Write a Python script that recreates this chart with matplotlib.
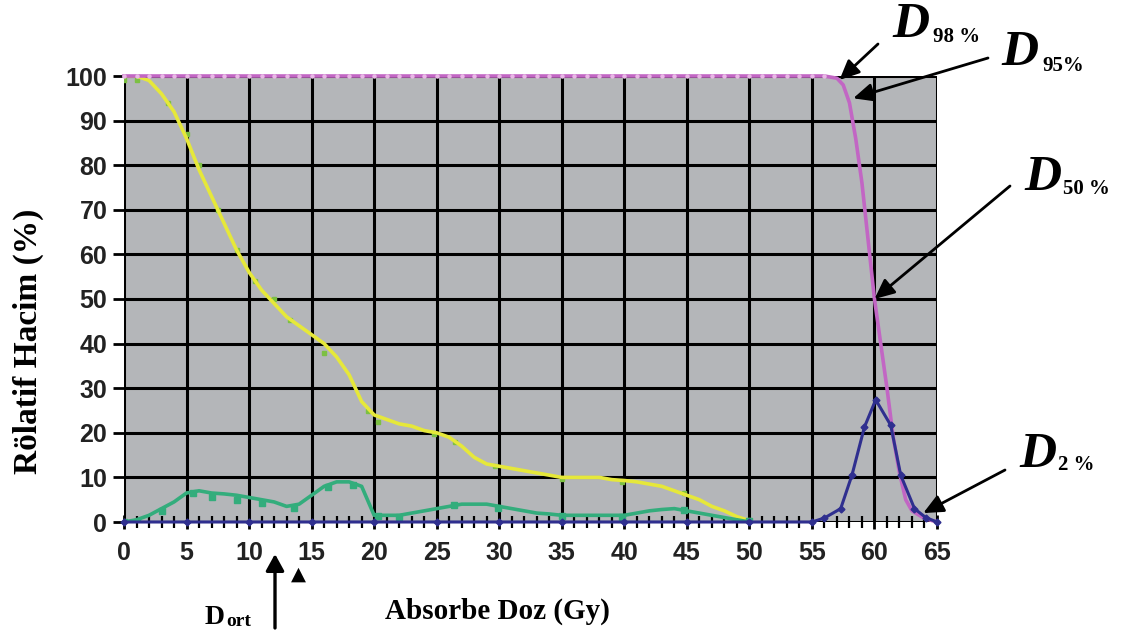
import numpy as np
import matplotlib
matplotlib.use("Agg")
import matplotlib.pyplot as plt
from matplotlib.ticker import MultipleLocator

# -----------------------------
# Data
# -----------------------------
dose = list(range(0, 51))
yellow_vol = [100, 100, 99, 96, 92, 86, 79, 73, 67, 61,
              56, 52, 49, 46, 44, 42, 40, 37, 33, 27,
              24, 23, 22, 21.5, 20.5, 20, 19, 17, 14.5, 13,
              12.5, 12, 11.5, 11, 10.5, 10, 10, 10, 10, 9.5,
              9.3, 9, 8.5, 8, 7, 6, 5, 3.5, 2.5, 1.2, 0.3]
yellow_mark_x = [0, 1, 3.5, 5, 6, 7.5, 9, 10.5, 12, 13.3, 16, 19.5, 20.3, 24.8, 26.5, 29.7, 35, 39.8, 44.8, 50]
yellow_mark_y = [99, 99, 94, 87, 80, 70, 61, 54, 50, 45.3, 38, 25, 22.4, 19.8, 18, 12.5, 9.6, 9, 6.5, 0.4]

green_vol = [0, 0.5, 1.5, 3, 4.5, 6.5, 7, 6.5, 6.3, 6,
             5.5, 5, 4.5, 3.5, 4, 6, 8, 9, 9, 8,
             1.5, 1.5, 1.5, 2, 2.5, 3, 3.5, 4, 4, 4,
             3.5, 3, 2.5, 2, 1.8, 1.5, 1.5, 1.5, 1.5, 1.5,
             1.5, 2, 2.5, 2.8, 3, 2.5, 2, 1.5, 1, 0.5, 0]
green_mark_x = [0, 1, 3, 5.5, 7, 9, 11, 13.6, 16.3, 18.3, 20.3, 22, 26.4, 29.9, 35, 39.8, 44.8, 50]
green_mark_y = [0, 0, 2.5, 6.5, 5.5, 5, 4.3, 3.2, 7.8, 8.2, 1.3, 1.2, 3.8, 3.2, 1.4, 1.1, 2.6, 0.2]

pink_x = [0, 5, 10, 15, 20, 25, 30, 35, 40, 45, 50, 55, 56, 57, 57.5, 58, 58.5, 59, 59.5, 60,
          60.5, 61, 61.5, 62, 62.5, 63, 64, 65]
pink_y = [100, 100, 100, 100, 100, 100, 100, 100, 100, 100, 100, 100, 100, 99.5, 98, 94, 86, 76, 63, 50,
          40, 30, 19, 11, 5, 2.5, 0.8, 0]
pink_mark_x = list(range(0, 57))

blue_x = [0, 5, 10, 15, 20, 25, 30, 35, 40, 45, 50, 55, 56, 57.3, 58.2, 59.2, 60.1, 61.3, 62.1, 63.2, 64.1, 65]
blue_y = [0, 0, 0, 0, 0, 0, 0, 0, 0, 0, 0, 0, 0.9, 3, 10.5, 21.3, 27.4, 21.7, 10.5, 3, 1, 0]

# colours
BG = "#b4b6b9"
YELLOW = "#e6e83a"
YGREEN = "#7cc043"
GREEN = "#33ad7c"
PINK = "#c266c4"
NAVY = "#2f2f8f"

W, H = 1121, 637
fig = plt.figure(figsize=(W / 100, H / 100), dpi=100)
ax = fig.add_axes([124 / W, 1 - 522 / H, (937 - 124) / W, (522 - 76) / H])
ax.set_facecolor(BG)
ax.set_xlim(0, 65)
ax.set_ylim(0, 100)

ax.xaxis.set_major_locator(MultipleLocator(5))
ax.xaxis.set_minor_locator(MultipleLocator(1))
ax.yaxis.set_major_locator(MultipleLocator(10))
ax.grid(True, which="major", color="black", linewidth=2.2)
ax.set_axisbelow(True)
for s in ax.spines.values():
    s.set_visible(False)

ax.tick_params(axis="y", which="major", direction="out", length=8, width=2, color="black",
               labelsize=18, pad=4, labelcolor="#222222")
ax.tick_params(axis="x", which="major", direction="inout", length=10, width=2, color="black",
               labelsize=18, pad=9, labelcolor="#222222")
ax.tick_params(axis="x", which="minor", direction="inout", length=8, width=1.6, color="black")
for lab in ax.get_xticklabels() + ax.get_yticklabels():
    lab.set_fontfamily("Liberation Sans")
    lab.set_fontweight("bold")

# curves
ax.plot(dose, yellow_vol, color=YELLOW, lw=2.6, zorder=4)
ax.plot(yellow_mark_x, yellow_mark_y, ls="none", marker="s", ms=3.5, color=YGREEN, zorder=3)

ax.plot(dose, green_vol, color=GREEN, lw=2.6, zorder=4)
ax.plot(green_mark_x, green_mark_y, ls="none", marker="s", ms=4.5, color=GREEN, zorder=4)

ax.plot(pink_x, pink_y, color=PINK, lw=2.6, zorder=5, clip_on=False)
ax.plot(pink_mark_x, [100] * len(pink_mark_x), ls="none", marker="o", ms=2.2,
        color="#e9b9e6", zorder=6, clip_on=False)

ax.plot(blue_x, blue_y, color=NAVY, lw=2.2, marker="D", ms=3.5, zorder=6, clip_on=False)

# axis labels
fig.text(28 / W, 1 - 341 / H, "Rölatif Hacim (%)", rotation=90, ha="center", va="center",
         family="Liberation Serif", fontweight="bold", fontsize=24)
fig.text(497 / W, 1 - 611 / H, "Absorbe Doz (Gy)", ha="center", va="center",
         family="Liberation Serif", fontweight="bold", fontsize=21)

# D_ort marker under the axis
fig.text(205 / W, 1 - 617 / H, "D", ha="left", va="center",
         family="Liberation Serif", fontweight="bold", fontsize=20)
fig.text(226 / W, 1 - 621 / H, "ort", ha="left", va="center",
         family="Liberation Serif", fontweight="bold", fontsize=14)
ax.annotate("", xy=(275, H - 554), xycoords="figure pixels",
            xytext=(275, H - 628), textcoords="figure pixels",
            arrowprops=dict(arrowstyle="-|>,head_width=0.55,head_length=1.0", color="black", lw=2.4,
                            shrinkA=0, shrinkB=0))
fig.text(298 / W, 1 - 574 / H, "▲", ha="center", va="center", fontsize=14, color="black",
         family="DejaVu Sans")

# D-value annotations: (subscript, D pos px, sub pos px, arrow tail px, arrow head data)
notes = [
    ("98 %", (892, 25), (933, 37), (878, 44), (57.2, 99.1)),
    ("95%", (1001, 53), (1042, 66), (988, 58), (58.3, 95.0)),
    ("50 %", (1024, 178), (1063, 189), (1010, 186), (60.0, 50.0)),
    ("2 %", (1019, 455), (1058, 465), (1005, 470), (63.9, 2.0)),
]
for sub, dpos, spos, tail, head in notes:
    fig.text(dpos[0] / W, 1 - dpos[1] / H, "D", ha="left", va="center",
             family="Liberation Serif", fontweight="bold", fontstyle="italic", fontsize=37)
    fig.text(spos[0] / W, 1 - spos[1] / H, sub, ha="left", va="center",
             family="Liberation Serif", fontweight="bold", fontsize=15)
    ax.annotate("", xy=head, xycoords="data",
                xytext=(tail[0], H - tail[1]), textcoords="figure pixels",
                arrowprops=dict(arrowstyle="-|>,head_width=0.55,head_length=1.2",
                                color="black", lw=2.0, shrinkA=0, shrinkB=0),
                annotation_clip=False, zorder=10)

fig.savefig("out.png", dpi=100)
